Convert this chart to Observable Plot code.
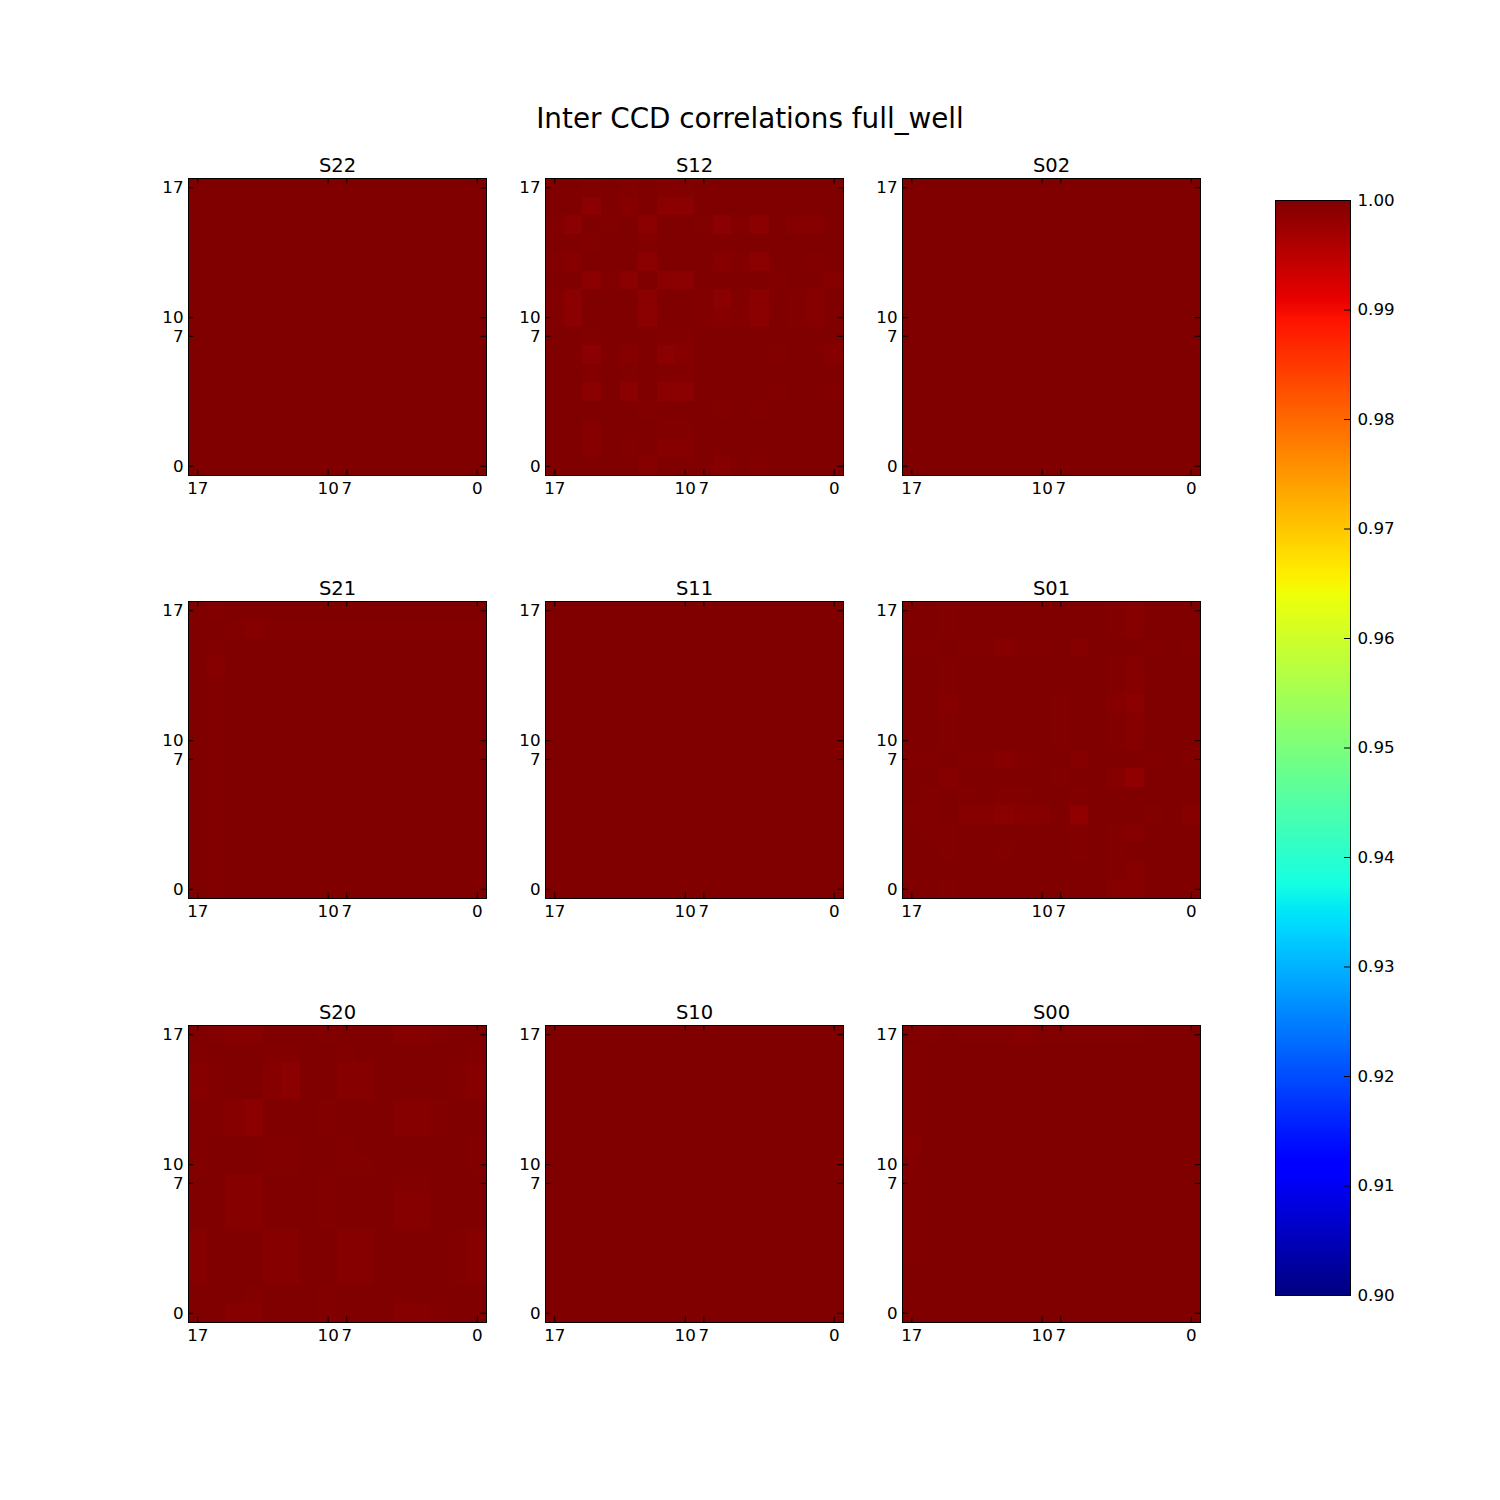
<!DOCTYPE html>
<html>
<head>
<meta charset="utf-8">
<script src="https://cdn.jsdelivr.net/npm/d3@7"></script>
<script src="https://cdn.jsdelivr.net/npm/@observablehq/plot@0.6"></script>
<style>
  html, body { margin: 0; padding: 0; background: #ffffff; }
  #root { position: relative; width: 1500px; height: 1500px; font-family: "DejaVu Sans", sans-serif; }
  #root svg { position: absolute; overflow: visible; }
  #title { position: absolute; left: 0; width: 1500px; top: 105px; text-align: center;
           font-size: 27.8px; line-height: 27.8px; color: #000; }
</style>
</head>
<body>
<div id="root"><div id="title">Inter CCD correlations full_well</div></div>
<script>
// ---------------- data ----------------
const amps = [17, 16, 15, 14, 13, 12, 11, 10, 7, 6, 5, 4, 3, 2, 1, 0];
const tickAmps = [17, 10, 7, 0];
const colorbarTicks = [0.90, 0.91, 0.92, 0.93, 0.94, 0.95, 0.96, 0.97, 0.98, 0.99, 1.00];
const panelNames = ["S22", "S12", "S02", "S21", "S11", "S01", "S20", "S10", "S00"];

const S22 = [
[1,1,1,1,1,1,1,1,1,1,1,1,1,1,1,1],[1,1,1,1,1,1,1,1,1,1,1,1,1,1,1,1],
[1,1,1,1,1,1,1,1,1,1,1,1,1,1,1,1],[1,1,1,1,1,1,1,1,1,1,1,1,1,1,1,1],
[1,1,1,1,1,1,1,1,1,1,1,1,1,1,1,1],[1,1,1,1,1,1,1,1,1,1,1,1,1,1,1,1],
[1,1,1,1,1,1,1,1,1,1,1,1,1,1,1,1],[1,1,1,1,1,1,1,1,1,1,1,1,1,1,1,1],
[1,1,1,1,1,1,1,1,1,1,1,1,1,1,1,1],[1,1,1,1,1,1,1,1,1,1,1,1,1,1,1,1],
[1,1,1,1,1,1,1,1,1,1,1,1,1,1,1,1],[1,1,1,1,1,1,1,1,1,1,1,1,1,1,1,1],
[1,1,1,1,1,1,1,1,1,1,1,1,1,1,1,1],[1,1,1,1,1,1,1,1,1,1,1,1,1,1,1,1],
[1,1,1,1,1,1,1,1,1,1,1,1,1,1,1,1],[1,1,1,1,1,1,1,1,1,1,1,1,1,1,1,1]];

const S12 = [
[1,1,.9997,1,.9997,1,.9997,.9997,1,1,1,1,1,1,1,1],
[1,1,.999,1,.9994,1,.999,.999,1,1,1,1,1,1,1,1],
[.9997,.999,1,.9997,1,.999,1,1,.9997,.999,.9997,.999,1,.9994,.9994,1],
[1,1,.9997,1,1,.9997,1,1,1,1,1,1,1,1,1,1],
[.9997,.9994,1,1,1,.999,1,1,1,.9994,.9997,.999,1,1,.9997,1],
[1,1,.999,.9997,.999,1,.999,.999,1,1,1,1,.9997,1,1,.9994],
[.9997,.999,1,1,1,.999,1,1,.9997,.999,.9997,.999,1,.9997,.9994,1],
[.9997,.999,1,1,1,.999,1,1,.9997,.9994,.9997,.999,1,.9997,.9994,1],
[1,1,.9997,1,1,1,.9997,.9997,1,1,1,1,1,1,1,1],
[1,1,.999,1,.9994,1,.999,.9994,1,1,1,1,.9997,1,1,.9994],
[1,1,.9997,1,.9997,1,.9997,.9997,1,1,1,1,1,1,1,1],
[1,1,.999,1,.999,1,.999,.999,1,1,1,1,.9997,1,1,.9997],
[1,1,1,1,1,.9997,1,1,1,.9997,1,.9997,1,1,1,1],
[1,1,.9994,1,1,1,.9997,.9997,1,1,1,1,1,1,1,1],
[1,1,.9994,1,.9997,1,.9994,.9994,1,1,1,1,1,1,1,1],
[1,1,1,1,1,.9994,1,1,1,.9994,1,.9997,1,1,1,1]];

const S02 = [
[1,1,1,1,1,1,1,1,1,1,1,1,1,1,1,1],[1,1,1,1,1,1,1,1,1,1,1,1,1,1,1,1],
[1,1,1,1,1,1,1,1,1,1,1,1,1,1,1,1],[1,1,1,1,1,1,1,1,1,1,1,1,1,1,1,1],
[1,1,1,1,1,1,1,1,1,1,1,1,1,1,1,1],[1,1,1,1,1,1,1,1,1,1,1,1,1,1,1,1],
[1,1,1,1,1,1,1,1,1,1,1,1,1,1,1,1],[1,1,1,1,1,1,1,1,1,1,1,1,1,1,1,1],
[1,1,1,1,1,1,1,1,1,1,1,1,1,1,1,1],[1,1,1,1,1,1,1,1,1,1,1,1,1,1,1,1],
[1,1,1,1,1,1,1,1,1,1,1,1,1,1,1,1],[1,1,1,1,1,1,1,1,1,1,1,1,1,1,1,1],
[1,1,1,1,1,1,1,1,1,1,1,1,1,1,1,1],[1,1,1,1,1,1,1,1,1,1,1,1,1,1,1,1],
[1,1,1,1,1,1,1,1,1,1,1,1,1,1,1,1],[1,1,1,1,1,1,1,1,1,1,1,1,1,1,1,1]];

const S21 = [
[1,.9997,1,1,1,1,1,1,1,1,1,1,1,1,1,1],
[1,1,.9997,.9994,.9997,.9997,.9997,.9997,.9997,.9997,.9997,.9997,.9997,.9997,.9997,.9997],
[1,.9997,1,1,1,1,1,1,1,1,1,1,1,1,1,1],
[1,.9994,1,1,1,1,1,1,1,1,1,1,1,1,1,1],
[1,.9997,1,1,1,1,1,1,1,1,1,1,1,1,1,1],
[1,.9997,1,1,1,1,1,1,1,1,1,1,1,1,1,1],
[1,.9997,1,1,1,1,1,1,1,1,1,1,1,1,1,1],
[1,.9997,1,1,1,1,1,1,1,1,1,1,1,1,1,1],
[1,.9997,1,1,1,1,1,1,1,1,1,1,1,1,1,1],
[1,.9997,1,1,1,1,1,1,1,1,1,1,1,1,1,1],
[1,.9997,1,1,1,1,1,1,1,1,1,1,1,1,1,1],
[1,.9997,1,1,1,1,1,1,1,1,1,1,1,1,1,1],
[1,.9997,1,1,1,1,1,1,1,1,1,1,1,1,1,1],
[1,.9997,1,1,1,1,1,1,1,1,1,1,1,1,1,1],
[1,.9997,1,1,1,1,1,1,1,1,1,1,1,1,1,1],
[1,.9997,1,1,1,1,1,1,1,1,1,1,1,1,1,1]];

const S11 = [
[1,1,1,1,1,1,1,1,1,1,1,1,1,1,1,1],[1,1,1,1,1,1,1,1,1,1,1,1,1,1,1,1],
[1,1,1,1,1,1,1,1,1,1,1,1,1,1,1,1],[1,1,1,1,1,1,1,1,1,1,1,1,1,1,1,1],
[1,1,1,1,1,1,1,1,1,1,1,1,1,1,1,1],[1,1,1,1,1,1,1,1,1,1,1,1,1,1,1,1],
[1,1,1,1,1,1,1,1,1,1,1,1,1,1,1,1],[1,1,1,1,1,1,1,1,1,1,1,1,1,1,1,1],
[1,1,1,1,1,1,1,1,1,1,1,1,1,1,1,1],[1,1,1,1,1,1,1,1,1,1,1,1,1,1,1,1],
[1,1,1,1,1,1,1,1,1,1,1,1,1,1,1,1],[1,1,1,1,1,1,1,1,1,1,1,1,1,1,1,1],
[1,1,1,1,1,1,1,1,1,1,1,1,1,1,1,1],[1,1,1,1,1,1,1,1,1,1,1,1,1,1,1,1],
[1,1,1,1,1,1,1,1,1,1,1,1,1,1,1,1],[1,1,1,1,1,1,1,1,1,1,1,1,1,1,1,1]];

const S01 = [
[1,1,.9997,1,1,1,1,1,1,1,1,.9997,.9994,1,1,1],
[1,1,.9997,1,1,1,1,1,1,1,1,.9997,.9994,1,1,1],
[.9997,.9997,1,.9997,.9997,.9994,.9997,.9997,1,.9994,1,1,1,.9997,1,.9997],
[1,1,.9997,1,1,1,1,1,1,1,1,.9997,.9994,1,1,1],
[1,1,.9997,1,1,1,1,1,1,1,1,.9997,.9994,1,1,1],
[1,1,.9994,1,1,1,1,1,.9997,1,1,.9994,.999,1,1,1],
[1,1,.9997,1,1,1,1,1,.9997,1,1,.9997,.9994,1,1,1],
[1,1,.9997,1,1,1,1,1,.9997,1,1,.9997,.9994,1,1,1],
[.9997,.9997,1,.9997,.9997,.9994,.9997,1,1,.9994,1,1,1,.9997,1,.9997],
[1,1,.9994,1,1,1,1,1,.9997,1,1,.9994,.9985,1,1,1],
[1,.9997,1,.9997,1,.9997,.9997,1,1,.9997,1,1,1,1,1,1],
[.9997,.9997,1,.9994,.9994,.999,.9994,.9994,1,.9985,1,1,1,.9997,1,.9994],
[1,.9997,.9997,1,1,1,1,1,1,.9997,1,.9997,.9994,1,1,1],
[1,1,.9997,1,1,.9997,1,1,1,.9997,1,.9997,1,1,1,1],
[1,1,1,1,1,1,1,1,1,1,1,.9997,.9994,1,1,1],
[1,1,.9997,1,1,1,1,1,1,1,1,.9994,.9994,1,1,1]];

const S20 = [
[1,.9997,.9994,.9994,1,1,1,.9997,1,1,1,.9994,.9994,.9997,1,1],
[.9997,1,1,1,.9997,.9997,1,1,.9997,1,1,1,1,1,1,.9997],
[.9994,.9997,1,1,.9994,.999,1,1,.9994,.9994,1,1,1,1,.9997,.9994],
[.9994,.9997,1,1,.9994,.999,1,1,.9994,.9994,1,1,1,1,.9997,.9994],
[.9997,.9997,.9994,.999,1,1,1,.9997,1,1,1,.9994,.9994,.9997,1,1],
[.9997,.9997,.9994,.999,1,1,1,.9997,1,1,1,.9994,.9994,.9997,1,1],
[.9997,1,1,1,.9997,.9997,1,1,.9997,1,1,1,1,1,1,.9997],
[.9997,1,1,1,.9997,.9997,1,1,.9997,.9997,1,1,1,1,1,.9997],
[1,1,.9994,.9994,1,1,1,.9997,1,1,1,.9997,.9997,1,1,1],
[1,1,.9994,.9994,1,1,1,.9997,1,1,1,.9994,.9994,1,1,1],
[1,1,.9994,.9994,1,1,1,.9997,1,1,1,.9994,.9994,1,1,1],
[.9994,1,1,1,.9994,.9994,1,1,.9994,.9994,1,1,1,1,.9997,.9994],
[.9994,1,1,1,.9994,.9994,1,1,.9994,.9994,1,1,1,1,.9997,.9994],
[.9994,1,1,1,.9994,.9994,1,1,.9994,.9994,1,1,1,1,.9997,.9994],
[1,1,1,.9997,1,1,1,.9997,1,1,1,1,1,1,1,1],
[1,1,.9994,.9994,1,1,1,.9997,1,1,1,.9994,.9994,.9997,1,1]];

const S10 = [
[1,1,1,1,1,1,1,1,1,1,1,1,1,1,1,1],[1,1,1,1,1,1,1,1,1,1,1,1,1,1,1,1],
[1,1,1,1,1,1,1,1,1,1,1,1,1,1,1,1],[1,1,1,1,1,1,1,1,1,1,1,1,1,1,1,1],
[1,1,1,1,1,1,1,1,1,1,1,1,1,1,1,1],[1,1,1,1,1,1,1,1,1,1,1,1,1,1,1,1],
[1,1,1,1,1,1,1,1,1,1,1,1,1,1,1,1],[1,1,1,1,1,1,1,1,1,1,1,1,1,1,1,1],
[1,1,1,1,1,1,1,1,1,1,1,1,1,1,1,1],[1,1,1,1,1,1,1,1,1,1,1,1,1,1,1,1],
[1,1,1,1,1,1,1,1,1,1,1,1,1,1,1,1],[1,1,1,1,1,1,1,1,1,1,1,1,1,1,1,1],
[1,1,1,1,1,1,1,1,1,1,1,1,1,1,1,1],[1,1,1,1,1,1,1,1,1,1,1,1,1,1,1,1],
[1,1,1,1,1,1,1,1,1,1,1,1,1,1,1,1],[1,1,1,1,1,1,1,1,1,1,1,1,1,1,1,1]];

const S00 = [
[1,.9997,1,.9997,.9997,.9997,.9994,.9997,.9997,.9997,.9997,.9997,.9997,1,1,1],
[.9997,1,1,1,1,1,1,1,1,1,1,1,1,1,1,1],
[.9997,1,1,1,1,1,1,1,1,1,1,1,1,1,1,1],
[.9997,1,1,1,1,1,1,1,1,1,1,1,1,1,1,1],
[.9997,1,1,1,1,1,1,1,1,1,1,1,1,1,1,1],
[.9997,1,1,1,1,1,1,1,1,1,1,1,1,1,1,1],
[.9994,1,1,1,1,1,1,1,1,1,1,1,1,1,1,1],
[.9997,1,1,1,1,1,1,1,1,1,1,1,1,1,1,1],
[.9997,1,1,1,1,1,1,1,1,1,1,1,1,1,1,1],
[.9997,1,1,1,1,1,1,1,1,1,1,1,1,1,1,1],
[.9997,1,1,1,1,1,1,1,1,1,1,1,1,1,1,1],
[.9997,1,1,1,1,1,1,1,1,1,1,1,1,1,1,1],
[.9997,1,1,1,1,1,1,1,1,1,1,1,1,1,1,1],
[1,1,1,1,1,1,1,1,1,1,1,1,1,1,1,1],
[1,1,1,1,1,1,1,1,1,1,1,1,1,1,1,1],
[1,1,1,1,1,1,1,1,1,1,1,1,1,1,1,1]];

const panelMatrices = [S22, S12, S02, S21, S11, S01, S20, S10, S00];

// ---------------- jet colormap (matplotlib segment data) ----------------
const jetR = [[0, 0], [0.35, 0], [0.66, 1], [0.89, 1], [1, 0.5]];
const jetG = [[0, 0], [0.125, 0], [0.375, 1], [0.64, 1], [0.91, 0], [1, 0]];
const jetB = [[0, 0.5], [0.11, 1], [0.34, 1], [0.65, 0], [1, 0]];
function seg(pts, t) {
  for (let i = 1; i < pts.length; i++) {
    if (t <= pts[i][0]) {
      const [x0, y0] = pts[i - 1], [x1, y1] = pts[i];
      return y0 + (y1 - y0) * (t - x0) / (x1 - x0);
    }
  }
  return pts[pts.length - 1][1];
}
function jet(t) {
  t = Math.max(0, Math.min(1, t));
  return `rgb(${Math.round(255 * seg(jetR, t))},${Math.round(255 * seg(jetG, t))},${Math.round(255 * seg(jetB, t))})`;
}
const colorScale = {type: "linear", domain: [0.9, 1.0], interpolate: jet, clamp: true};

// ---------------- layout ----------------
const root = document.getElementById("root");
const colLefts = [188, 545, 902];
const rowTops = [178, 601, 1025];
const PW = 298, PH = 297;
const ML = 45, MR = 12, MT = 40, MB = 30;
const TICK = 5.5;
const font = "DejaVu Sans";
const TICK_FONT = 16.7;

function panel(name, matrix) {
  const cells = [];
  matrix.forEach((row, i) => row.forEach((v, j) => cells.push({col: amps[j], row: amps[i], value: v})));
  return Plot.plot({
    width: PW + ML + MR,
    height: PH + MT + MB,
    marginLeft: ML, marginRight: MR, marginTop: MT, marginBottom: MB,
    style: {fontFamily: font, fontSize: TICK_FONT + "px", background: "transparent", overflow: "visible", color: "#000"},
    x: {type: "band", domain: amps, padding: 0, round: false},
    y: {type: "band", domain: amps, padding: 0, round: false},
    color: colorScale,
    marks: [
      Plot.cell(cells, {x: "col", y: "row", fill: "value", shapeRendering: "crispEdges"}),
      Plot.tickX(tickAmps, {x: d => d, insetTop: PH - TICK, stroke: "#000", strokeWidth: 1}),
      Plot.tickX(tickAmps, {x: d => d, insetBottom: PH - TICK, stroke: "#000", strokeWidth: 1}),
      Plot.tickY(tickAmps, {y: d => d, insetRight: PW - TICK, stroke: "#000", strokeWidth: 1}),
      Plot.tickY(tickAmps, {y: d => d, insetLeft: PW - TICK, stroke: "#000", strokeWidth: 1}),
      Plot.frame({stroke: "#000", strokeWidth: 1}),
      Plot.axisX(tickAmps, {anchor: "bottom", tickSize: 0, tickPadding: 7, fontSize: TICK_FONT, label: null}),
      Plot.axisY(tickAmps, {anchor: "left", tickSize: 0, tickPadding: 5, fontSize: TICK_FONT, label: null}),
      Plot.text([name], {frameAnchor: "top", dy: -13, fontSize: 19.5, lineAnchor: "middle", fill: "#000"})
    ]
  });
}

panelNames.forEach((name, k) => {
  const r = Math.floor(k / 3), c = k % 3;
  const svg = panel(name, panelMatrices[k]);
  svg.style.left = (colLefts[c] - ML) + "px";
  svg.style.top = (rowTops[r] - MT) + "px";
  root.appendChild(svg);
});

// ---------------- colorbar ----------------
const CB_X = 1275, CB_Y = 200, CB_W = 75, CB_H = 1095;
const cML = 5, cMR = 70, cMT = 10, cMB = 10;
const rampSteps = d3.range(0.9, 1.0, 0.0001);
const cb = Plot.plot({
  width: CB_W + cML + cMR,
  height: CB_H + cMT + cMB,
  marginLeft: cML, marginRight: cMR, marginTop: cMT, marginBottom: cMB,
  style: {fontFamily: font, fontSize: TICK_FONT + "px", background: "transparent", overflow: "visible", color: "#000"},
  y: {domain: [0.9, 1.0]},
  color: colorScale,
  marks: [
    Plot.rect(rampSteps, {y1: d => d, y2: d => Math.min(1.0, d + 0.0001), fill: d => d + 0.00005, shapeRendering: "crispEdges"}),
    Plot.tickY(colorbarTicks, {y: d => d, insetLeft: CB_W - 6, stroke: "#000", strokeWidth: 1}),
    Plot.frame({stroke: "#000", strokeWidth: 1}),
    Plot.axisY(colorbarTicks, {anchor: "right", tickSize: 0, tickPadding: 7, fontSize: TICK_FONT, tickFormat: d3.format(".2f"), label: null})
  ]
});
cb.style.left = (CB_X - cML) + "px";
cb.style.top = (CB_Y - cMT) + "px";
root.appendChild(cb);
</script>
</body>
</html>
